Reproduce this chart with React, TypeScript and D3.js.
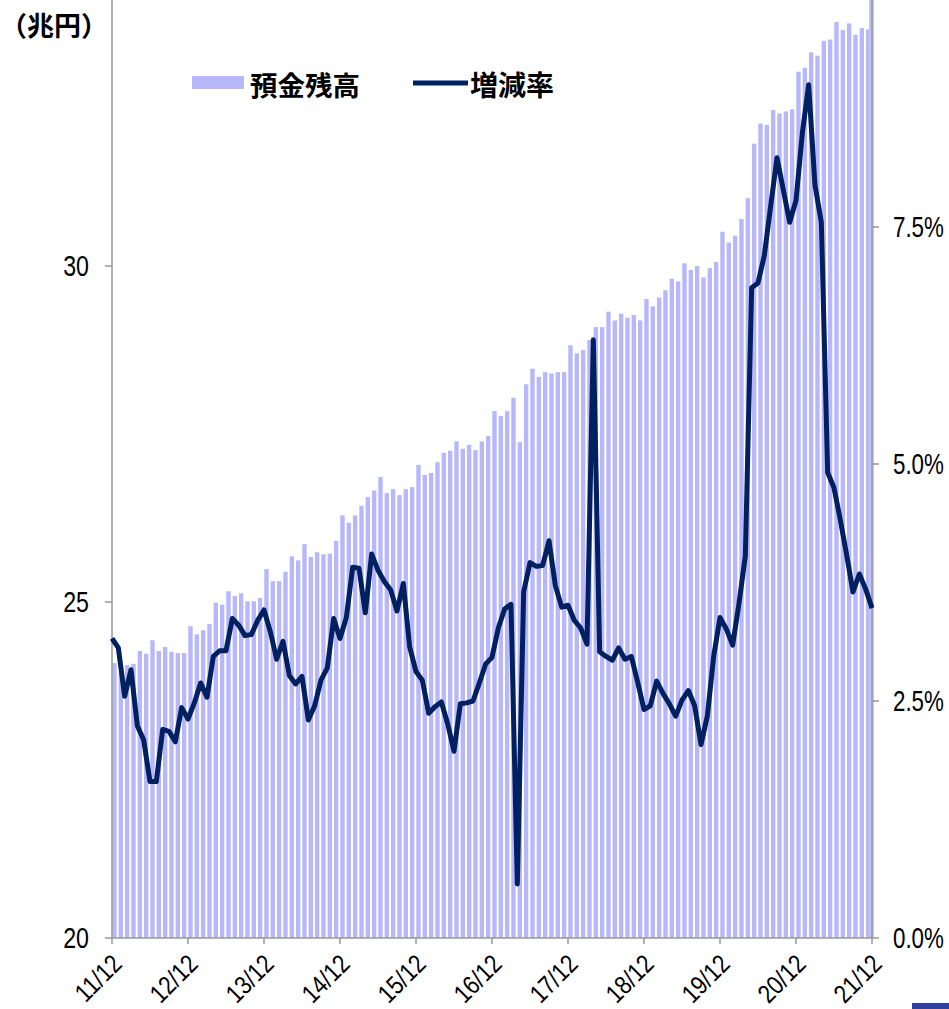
import React from "react";
import * as d3 from "d3";

// 預金残高 (兆円), monthly from 11/12
const deposits: number[] = [
  24.09, 23.94, 24.06, 24.08, 24.27, 24.23, 24.43, 24.27, 24.33, 24.26, 24.24, 24.24,
  24.64, 24.52, 24.58, 24.67, 24.99, 24.96, 25.16, 25.09, 25.13, 25.01, 25.01, 25.06,
  25.49, 25.31, 25.31, 25.45, 25.68, 25.62, 25.86, 25.67, 25.74, 25.71, 25.72, 25.91,
  26.29, 26.18, 26.29, 26.43, 26.56, 26.66, 26.86, 26.62, 26.68, 26.59, 26.68, 26.71,
  27.04, 26.89, 26.92, 27.08, 27.22, 27.25, 27.39, 27.28, 27.34, 27.26, 27.39, 27.47,
  27.84, 27.77, 27.84, 28.04, 27.38, 28.24, 28.47, 28.35, 28.42, 28.40, 28.42, 28.42,
  28.82, 28.70, 28.75, 28.90, 29.09, 29.09, 29.32, 29.19, 29.29, 29.23, 29.27, 29.19,
  29.51, 29.40, 29.53, 29.64, 29.81, 29.77, 30.04, 29.94, 30.00, 29.83, 29.97, 30.06,
  30.51, 30.35, 30.45, 30.70, 31.01, 31.82, 32.12, 32.10, 32.32, 32.27, 32.30, 32.33,
  32.89, 32.95, 33.18, 33.13, 33.35, 33.37, 33.63, 33.51, 33.61, 33.44, 33.54, 33.52,
];

// 増減率 (%), monthly from 11/12 to 21/12
const growthRate: number[] = [
  3.16, 3.06, 2.55, 2.83, 2.24, 2.09, 1.65, 1.65, 2.2, 2.18, 2.07, 2.43,
  2.31, 2.48, 2.69, 2.54, 2.97, 3.03, 3.03, 3.37, 3.3, 3.19, 3.2, 3.35,
  3.46, 3.23, 2.94, 3.13, 2.77, 2.68, 2.76, 2.3, 2.45, 2.72, 2.85, 3.37,
  3.16, 3.38, 3.91, 3.9, 3.43, 4.05, 3.88, 3.76, 3.67, 3.45, 3.74, 3.07,
  2.81, 2.72, 2.37, 2.44, 2.49, 2.26, 1.97, 2.47, 2.48, 2.5, 2.69, 2.89,
  2.96, 3.27, 3.47, 3.52, 0.57, 3.65, 3.96, 3.92, 3.93, 4.19, 3.72, 3.49,
  3.51, 3.35, 3.27, 3.1, 6.31, 3.02, 2.97, 2.93, 3.06, 2.94, 2.97, 2.7,
  2.41, 2.45, 2.71, 2.58, 2.47, 2.34, 2.51, 2.61, 2.45, 2.04, 2.34, 2.97,
  3.38, 3.26, 3.09, 3.53, 4.03, 6.86, 6.91, 7.2, 7.72, 8.23, 7.89, 7.55,
  7.78, 8.49, 9.0, 7.94, 7.55, 4.91, 4.75, 4.41, 4.04, 3.65, 3.84, 3.68,
  3.48,
];

const xTickLabels = ["11/12", "12/12", "13/12", "14/12", "15/12", "16/12", "17/12", "18/12", "19/12", "20/12", "21/12"];
const leftTicks = [20, 25, 30];
const rightTicks = [0, 2.5, 5, 7.5];

const W = 949;
const H = 1009;
const left = 112;
const right = 872;
const bottom = 938;

const numFont = "'Liberation Sans', Arial, sans-serif";
const jpFont = "'Noto Sans CJK JP', sans-serif";
const squeeze = 0.8; // the numbers in the original use a narrow face

const App: React.FC = () => {
  // month index 0 = 11/12, 120 = 21/12
  const x = d3.scaleLinear().domain([0, 120]).range([left, right]);
  const yL = d3.scaleLinear().domain([20, 30]).range([bottom, 266]);
  const yR = d3.scaleLinear().domain([0, 7.5]).range([bottom, 227]);
  const step = x(1) - x(0);

  const line = d3
    .line<number>()
    .x((_, i) => x(i))
    .y((d) => yR(d));

  return (
    <svg width={W} height={H} style={{ position: "absolute", left: 0, top: 0, background: "#fff" }}>
      {/* bars */}
      {deposits.map((d, i) => (
        <rect
          key={i}
          x={x(i) + 0.3}
          y={yL(d)}
          width={step * 0.69}
          height={bottom - yL(d)}
          fill="#b7b7fa"
        />
      ))}

      {/* axes */}
      <line x1={left} x2={left} y1={0} y2={bottom} stroke="#999" strokeWidth={1.5} />
      <rect x={right - 3} y={0} width={5} height={bottom} fill="#c4c4f2" />
      <line x1={right} x2={right} y1={0} y2={bottom} stroke="#999" strokeWidth={1.5} />
      <line x1={left} x2={right} y1={bottom} y2={bottom} stroke="#999" strokeWidth={1.5} />

      {leftTicks.map((t) => (
        <g key={t}>
          <line x1={left - 7} x2={left} y1={yL(t)} y2={yL(t)} stroke="#999" strokeWidth={1.5} />
          <text
            transform={`translate(89,${yL(t)}) scale(${squeeze},1)`}
            textAnchor="end"
            dominantBaseline="central"
            fontFamily={numFont}
            fontSize={29}
            fill="#000"
          >
            {t}
          </text>
        </g>
      ))}

      {rightTicks.map((t) => (
        <g key={t}>
          <line x1={right} x2={right + 7} y1={yR(t)} y2={yR(t)} stroke="#999" strokeWidth={1.5} />
          <text
            transform={`translate(893,${yR(t)}) scale(${squeeze - 0.03},1)`}
            dominantBaseline="central"
            fontFamily={numFont}
            fontSize={29}
            fill="#000"
          >
            {t.toFixed(1)}%
          </text>
        </g>
      ))}

      {xTickLabels.map((lab, i) => {
        const xp = x(i * 12);
        return (
          <g key={lab}>
            <line x1={xp} x2={xp} y1={bottom} y2={bottom + 6} stroke="#999" strokeWidth={1.5} />
            <text
              transform={`translate(${xp + 5},${bottom + 21}) rotate(-45) scale(0.85,1)`}
              textAnchor="end"
              dominantBaseline="central"
              fontFamily={numFont}
              fontSize={26}
              fill="#000"
            >
              {lab}
            </text>
          </g>
        );
      })}

      {/* growth line */}
      <path d={line(growthRate) || ""} fill="none" stroke="#002060" strokeWidth={5} strokeLinejoin="round" />

      {/* unit label */}
      <text x={0} y={24} dominantBaseline="central" fontFamily={jpFont} fontWeight="bold" fontSize={27} fill="#000">
        （兆円）
      </text>

      {/* legend */}
      <rect x={192} y={76} width={52} height={13} fill="#b7b7fa" />
      <text x={250} y={84} dominantBaseline="central" fontFamily={jpFont} fontWeight="bold" fontSize={27.5} fill="#000">
        預金残高
      </text>
      <line x1={413} x2={468} y1={83} y2={83} stroke="#002060" strokeWidth={5} />
      <text x={470} y={84} dominantBaseline="central" fontFamily={jpFont} fontWeight="bold" fontSize={28} fill="#000">
        増減率
      </text>

      <rect x={912} y={1003} width={37} height={6} fill="#3040a0" />
    </svg>
  );
};

export default App;
